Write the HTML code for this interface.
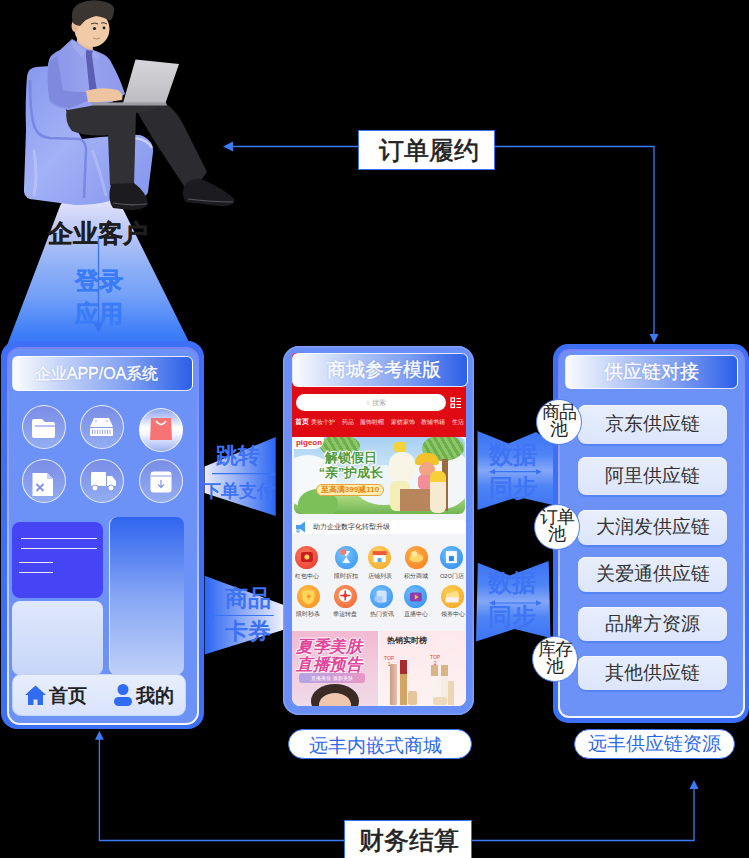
<!DOCTYPE html>
<html><head><meta charset="utf-8">
<style>
*{margin:0;padding:0;box-sizing:border-box}
html,body{width:749px;height:858px;background:#000;overflow:hidden;font-family:"Liberation Sans",sans-serif}
.a{position:absolute}
.lbl{position:absolute;border:1px solid rgba(255,255,255,.85);border-radius:6px;background:linear-gradient(90deg,#fbfcff 0%,#b4c7f6 35%,#7f9ff2 65%,#2c5fe8 100%);color:#fff;text-align:center;-webkit-text-stroke:.35px #fff;text-shadow:0 0 1.5px rgba(30,60,170,.45)}
.card{position:absolute;border-radius:14px;background:#3d70f6}
.inner{position:absolute;border-radius:11px;border:2px solid transparent;background:linear-gradient(#6c92f7,#6c92f7) padding-box,linear-gradient(180deg,#7b80f4 0%,#a9b6fa 50%,#f4f7ff 100%) border-box}
.row{position:absolute;left:578px;width:149px;border-radius:8px;background:linear-gradient(180deg,#e8eefd,#dce5fb);box-shadow:0 1.5px 1px #5584f2,inset 0 1px 0 #f4f7ff;color:#333;font-size:18.6px;text-align:center}
.pool{position:absolute;width:46px;height:46px;border-radius:50%;background:#fff;border:1.5px solid #4d80f3;color:#222;font-size:18px;line-height:17px;text-align:center;padding-top:4px;letter-spacing:-.8px;white-space:nowrap}
.pill{position:absolute;height:30px;border-radius:15px;background:#fff;border:1.5px solid #3a70f2;color:#2d68ea;font-size:18.5px;line-height:27px;text-align:center}
.box{position:absolute;background:#fff;border:1.5px solid #3a70f2;color:#222;font-size:24.5px;-webkit-text-stroke:.6px #222;text-align:center}
.ic{position:absolute;width:23px;height:23px;border-radius:50%}
.circ{position:absolute;width:44px;height:44px;border-radius:50%;background:linear-gradient(180deg,#7a8de6,#93adf2);border:1px solid rgba(255,255,255,.8)}
</style></head><body>

<!-- connector lines -->
<svg class="a" style="left:0;top:0" width="749" height="858">
  <g stroke="#3b7bf8" stroke-width="1.3" fill="none">
    <path d="M230 146.5 H358"/>
    <path d="M495 146.5 H654 V336"/>
    <path d="M99.4 739 V840.5 H344"/>
    <path d="M472 840.5 H694 V788"/>
  </g>
  <g fill="#3b7bf8">
    <path d="M223 146.5 L233 141.5 L233 151.5Z"/>
    <path d="M654 343 L649.5 334 L658.5 334Z"/>
    <path d="M99.4 731 L94.9 739.7 L103.9 739.7Z"/>
    <path d="M694 780 L689.5 789 L698.5 789Z"/>
  </g>
</svg>

<div class="box" style="left:358px;top:130px;width:137px;height:40px;line-height:39px;padding-left:5px">订单履约</div>
<div class="box" style="left:344px;top:820px;width:128px;height:40px;line-height:39px;padding-left:2px">财务结算</div>


<!-- beam -->
<svg class="a" style="left:0;top:190px" width="210" height="160">
  <defs>
    <linearGradient id="bm" x1="0" y1="0" x2="0" y2="1">
      <stop offset="0" stop-color="#e2e3fa"/>
      <stop offset="0.17" stop-color="#c4cdf6"/>
      <stop offset="0.45" stop-color="#8fb0f7"/>
      <stop offset="0.65" stop-color="#73a0f7"/>
      <stop offset="0.9" stop-color="#3f7ef8"/>
      <stop offset="1" stop-color="#3674f6"/>
    </linearGradient>
  </defs>
  <path d="M60 16 Q62 10 70 10 L112 10 Q118 10 120.5 14 L192 158 L6 158 Z" fill="url(#bm)"/>
</svg>

<!-- man -->
<svg class="a" style="left:0;top:0" width="250" height="215">
  <defs>
    <linearGradient id="ch" x1="0" y1="0" x2="1" y2="1">
      <stop offset="0" stop-color="#8798ef"/><stop offset=".45" stop-color="#a3b1f5"/><stop offset="1" stop-color="#8395ee"/>
    </linearGradient>
    <linearGradient id="lp" x1="0" y1="0" x2="0" y2="1">
      <stop offset="0" stop-color="#d6d6da"/><stop offset="1" stop-color="#bcbcc2"/>
    </linearGradient>
    <linearGradient id="sh" x1="0" y1="0" x2="1" y2="0">
      <stop offset="0" stop-color="#8894e8"/><stop offset=".5" stop-color="#97a3ee"/><stop offset="1" stop-color="#8e9aeb"/>
    </linearGradient>
  </defs>
  <!-- chair -->
  <path d="M27 76 Q28 68 36 67 L50 66 L66 110 L82 139 Q130 134 140 135 Q154 140 153 152 L148 192 Q146 199 130 199 L110 201 Q95 205 75 205 L30 199 Q23 197 24 188 L26 130 Q25 100 27 76Z" fill="url(#ch)"/>
  <path d="M30 80 Q30 120 36 130 Q40 137 50 138 L80 139 Q86 142 86 150 L84 198" stroke="#6d7ddd" stroke-width="2.5" fill="none" opacity=".75"/>
  <path d="M34 150 Q38 175 34 196" stroke="#c3ccf9" stroke-width="3" fill="none" opacity=".6"/>
  <path d="M122 138 Q146 136 152 148" stroke="#d2d9fb" stroke-width="2.5" fill="none" opacity=".8"/>
  <path d="M92 150 Q100 170 106 196" stroke="#c0caf8" stroke-width="3" fill="none" opacity=".5"/>
  <!-- far leg -->
  <path d="M136 110 L166 104 Q176 110 184 126 L207 172 Q200 184 186 189 L155 142Z" fill="#2b2b30"/>
  <!-- thigh + near leg -->
  <path d="M67 108 Q64 122 72 131 Q88 137 108 135 L110 185 L134 185 L136 113 L168 106 Q150 101 120 102 L92 103Z" fill="#303035"/>
  <!-- shoes -->
  <path d="M111 184 L134 183 Q146 192 148 203 Q146 210 130 210 L113 208 Q107 200 111 184Z" fill="#1c1c20"/>
  <path d="M184 186 Q192 176 204 180 Q226 190 235 200 Q233 207 220 206 L186 202 Q181 196 184 186Z" fill="#1c1c20"/>
  <path d="M113 203 Q128 206 147 204" stroke="#55555c" stroke-width="1.2" fill="none"/>
  <path d="M188 199 Q212 202 233 202" stroke="#55555c" stroke-width="1.2" fill="none"/>
  <!-- shirt -->
  <path d="M72 39 Q82 45 93 50 Q106 54 110 60 Q120 78 125 94 L112 102 L68 110 Q50 106 49 100 Q47 80 48 64 Q49 54 60 50 Z" fill="url(#sh)"/>
  <path d="M49 62 Q46 84 50 100 Q58 108 70 108 L90 100 L88 92 Q70 92 63 90 Q60 72 57 56Z" fill="#7f8adf"/>
  <!-- tie -->
  <path d="M86 50 L94 51 L92 56 L97 92 L90 96 L86 56Z" fill="#5b5fb2"/>
  <path d="M72 40 L86 51 L82 58 L72 46Z M93 50 L100 56 L96 60 L92 54Z" fill="#a0a9f0"/>
  <!-- head -->
  <path d="M77 36 L92 38 L93 50 Q85 50 77 42Z" fill="#e9bd98"/>
  <ellipse cx="92" cy="29" rx="17.5" ry="18" fill="#f1caa8"/>
  <ellipse cx="75" cy="26" rx="3.5" ry="6" fill="#e8b894"/>
  <path d="M73 23 Q69 8 80 3 Q92 -2 106 2 Q115 5 114 10 Q114 17 110 21 Q104 17 96 16 Q86 18 80 26 L76 25Z" fill="#3a3531"/>
  <circle cx="94.5" cy="28.5" r="1.6" fill="#222"/><circle cx="104" cy="28" r="1.4" fill="#222"/>
  <path d="M91 24 Q95 22 98 24 M101 23 Q104 22 107 24" stroke="#3b3632" stroke-width="1" fill="none"/>
  <path d="M93 38 Q97 40 100 38" stroke="#b07860" stroke-width=".8" fill="none"/>
  <!-- laptop -->
  <path d="M135.5 59.5 L179 64 L165.5 103 L123 103Z" fill="url(#lp)"/>
  <path d="M90 102.5 L166 102.5 L167 105.5 L94 105.5Z" fill="#9a9aa2"/>
  <!-- hands -->
  <path d="M86 91 Q100 86 118 90 Q124 94 122 100 Q110 102 88 102Z" fill="#efc4a0"/>
</svg>

<div class="a" style="left:48px;top:217px;font-size:24.5px;font-weight:bold;color:#1e1e1e;-webkit-text-stroke:.4px #1e1e1e">企业客户</div>
<div class="a" style="left:73px;top:263.5px;font-size:24px;font-weight:bold;color:#3a7cf8;-webkit-text-stroke:.5px #3a7cf8;line-height:33px;width:52px;text-align:center">登录<br>应用</div>
<svg class="a" style="left:0;top:0" width="210" height="345">
  <path d="M98.5 236 V326" stroke="#3a72f4" stroke-width="1.3"/>
  <path d="M98.5 333 L94 323 L103 323Z" fill="#3a72f4"/>
</svg>

<!-- left card -->
<div class="card" style="left:1px;top:341px;width:203px;height:388px;border-radius:16px"></div>
<div class="inner" style="left:7px;top:346.5px;width:192px;height:378px;border-radius:13px"></div>
<div class="lbl" style="left:12px;top:356px;width:181px;height:35px;font-size:16px;line-height:33px;padding-right:12px">企业APP/OA系统</div>
<div class="circ" style="left:22px;top:405px"></div>
<div class="circ" style="left:80px;top:405px"></div>
<div class="circ" style="left:139px;top:408px;background:linear-gradient(180deg,#8fa4f0 0%,#fff 45%,#f4f6ff 60%,#9db2f2 100%)"></div>
<div class="circ" style="left:22px;top:459px"></div>
<div class="circ" style="left:80px;top:459px"></div>
<div class="circ" style="left:139px;top:459px"></div>

<svg class="a" style="left:0;top:400px" width="200" height="110">
  <!-- folder -->
  <path d="M32 21 Q32 19 34 19 L42 19 L45 22 L53 22 Q55 22 55 24 L55 36 Q55 38 53 38 L34 38 Q32 38 32 36Z" fill="#fff"/>
  <path d="M35 26 L55.5 26" stroke="#8a9ae8" stroke-width="1.2"/>
  <!-- hdd -->
  <path d="M94 18 L109 18 L113 27 L90 27Z" fill="#fff"/>
  <rect x="90" y="28" width="23" height="8" rx="1" fill="#fff"/>
  <g stroke="#8d9be6" stroke-width=".9"><path d="M92.5 30 V34 M95 30 V34 M97.5 30 V34 M100 30 V34 M102.5 30 V34 M105 30 V34 M107.5 30 V34 M110 30 V34"/></g>
  <circle cx="96" cy="21" r=".8" fill="#8d9be6"/><circle cx="107" cy="21" r=".8" fill="#8d9be6"/>
  <!-- bag -->
  <path d="M151 18 L171 18 L172 40 L150 40Z" fill="#f87474"/>
  <path d="M156 21 Q161 28 166 21" stroke="#fff" stroke-width="1.3" fill="none"/>
  <!-- file x -->
  <path d="M32.5 73 L47 73 L53 79 L53 96 L32.5 96Z" fill="#fff"/>
  <path d="M47 73 L47 79 L53 79" fill="#c9d1f5"/>
  <path d="M36.5 84 L43.5 91 M43.5 84 L36.5 91" stroke="#7f90e2" stroke-width="1.8"/>
  <!-- truck -->
  <rect x="91" y="72" width="15" height="14" rx="1" fill="#fff"/>
  <path d="M107 76 L112 76 L116 81 L116 86 L107 86Z" fill="#fff"/>
  <circle cx="95" cy="88" r="3" fill="#fff" stroke="#8d9be6" stroke-width="1"/>
  <circle cx="111" cy="88" r="3" fill="#fff" stroke="#8d9be6" stroke-width="1"/>
  <!-- box download -->
  <rect x="150.5" y="71.5" width="21" height="21" rx="3" fill="#fff"/>
  <path d="M150.5 76 H171.5" stroke="#8d9be6" stroke-width="1"/>
  <path d="M161 80 V87 M158 84.5 L161 87.5 L164 84.5" stroke="#8d9be6" stroke-width="1.3" fill="none"/>
</svg>
<div class="a" style="left:12px;top:522px;width:91px;height:76px;border-radius:8px;background:#4545f5"></div>
<svg class="a" style="left:12px;top:522px" width="91" height="76">
  <g stroke="#fff" stroke-width="1" opacity=".9"><path d="M9 16.5 H85 M9 26.5 H85 M7 40.5 H41 M7 50.5 H41"/></g>
</svg>
<div class="a" style="left:12px;top:601px;width:91px;height:74px;border-radius:8px;background:linear-gradient(180deg,#e0e8fc,#c6d5f8)"></div>
<div class="a" style="left:109px;top:517px;width:75px;height:158px;border-radius:8px;background:linear-gradient(180deg,#2f64ee 0%,#86a6f4 50%,#bfd0f8 100%);border-left:1px solid #dfe8ff"></div>
<div class="a" style="left:12px;top:674px;width:174px;height:42px;border-radius:9px;background:linear-gradient(180deg,#e8eefd,#d9e3fb);border:1px solid #c3d3fa"></div>
<svg class="a" style="left:24px;top:684px" width="24" height="24">
  <path d="M1 11 L11.5 1.5 L22 11 L19 11 L19 21 L13.5 21 L13.5 15.5 L9.5 15.5 L9.5 21 L4 21 L4 11Z" fill="#2f6cf0"/>
</svg>
<div class="a" style="left:49px;top:684px;font-size:18.5px;font-weight:bold;color:#222;line-height:24px">首页</div>
<svg class="a" style="left:113px;top:683px" width="20" height="24">
  <circle cx="10" cy="6.5" r="5.5" fill="#2f6cf0"/>
  <rect x="1" y="14" width="18" height="9" rx="4.5" fill="#2f6cf0"/>
</svg>
<div class="a" style="left:136px;top:684px;font-size:18.5px;font-weight:bold;color:#222;line-height:24px">我的</div>

<!-- middle phone -->
<div class="a" style="left:283px;top:345.5px;width:191px;height:369.5px;border-radius:16px;background:#6a8ef7;box-shadow:inset 0 0 0 1.5px #7f9ff9"></div>
<div class="a" style="left:292px;top:353px;width:174px;height:353px;border-radius:4px 4px 8px 8px;background:#f3f4f7;overflow:hidden">

  <div class="a" style="left:0;top:0;width:174px;height:84px;background:#e00a12"></div>
  <div class="a" style="left:4px;top:41px;width:150px;height:17px;border-radius:9px;background:#fff"></div>
  <div class="a" style="left:74px;top:45px;font-size:7px;color:#aaa;line-height:9px">&#9675; 搜索</div>
  <svg class="a" style="left:158px;top:44px" width="12" height="12"><g fill="none" stroke="#fff" stroke-width="1.2"><rect x="1" y="1" width="3.5" height="3.5"/><rect x="1" y="7" width="3.5" height="3.5"/><path d="M6.5 1.5 H11 M6.5 4.5 H11 M6.5 7.5 H11 M6.5 10.5 H11"/></g></svg>
  <div class="a" style="left:2.6px;top:64.0px;font-size:7px;font-weight:bold;color:#fff;line-height:10px;white-space:nowrap">首页</div>
  <div class="a" style="left:19.4px;top:64.5px;font-size:5.83px;color:#ffe0e0;line-height:9px;white-space:nowrap">美妆个护</div>
  <div class="a" style="left:50.3px;top:64.5px;font-size:5.85px;color:#ffe0e0;line-height:9px;white-space:nowrap">药品</div>
  <div class="a" style="left:67.7px;top:64.5px;font-size:5.83px;color:#ffe0e0;line-height:9px;white-space:nowrap">服饰鞋帽</div>
  <div class="a" style="left:98.5px;top:64.5px;font-size:5.83px;color:#ffe0e0;line-height:9px;white-space:nowrap">家纺家饰</div>
  <div class="a" style="left:129.3px;top:64.5px;font-size:5.83px;color:#ffe0e0;line-height:9px;white-space:nowrap">教辅书籍</div>
  <div class="a" style="left:159.6px;top:64.5px;font-size:5.90px;color:#ffe0e0;line-height:9px;white-space:nowrap">生活</div>
  <!-- banner -->
  <div class="a" style="left:2px;top:84px;width:171px;height:77px;border-radius:6px;overflow:hidden;background:linear-gradient(180deg,#a6d0f4 0%,#cfe6f8 45%,#e9f3f6 62%,#a9d67e 78%,#6fb552 100%)">
    <div class="a" style="left:-14px;top:18px;width:56px;height:52px;border-radius:50%;background:#f6f9fb"></div>
    <div class="a" style="left:60px;top:28px;width:60px;height:40px;border-radius:50%;background:#eef5f8"></div>
    <div class="a" style="left:118px;top:10px;width:60px;height:62px;border-radius:50%;background:#f2f6f8"></div>
    <div class="a" style="left:26px;top:-2px;width:40px;height:22px;border-radius:50%;background:repeating-linear-gradient(60deg,#8cc868 0 3px,#6fae4e 3px 6px)"></div>
    <div class="a" style="left:128px;top:-2px;width:42px;height:26px;border-radius:50%;background:repeating-linear-gradient(60deg,#8cc868 0 3px,#6fae4e 3px 6px)"></div>
    <div class="a" style="left:148px;top:22px;width:6px;height:52px;background:#9a6a40"></div>
    <div class="a" style="left:4px;top:52px;width:40px;height:30px;border-radius:50%;background:#7cc05a"></div>
    <div class="a" style="left:0;top:0;width:30px;height:12px;border-radius:0 0 9px 0;background:#fff;color:#e8262b;font-size:8px;font-weight:bold;line-height:12px;text-align:center">pigeon</div>
    <div class="a" style="left:20px;top:14px;width:74px;font-size:12.5px;font-weight:bold;color:#4c9a3c;line-height:15px;text-align:center;text-shadow:1px 0 #fff,-1px 0 #fff,0 1px #fff,0 -1px #fff,1px 1px #fff,-1px -1px #fff">解锁假日<br>“亲”护成长</div>
    <div class="a" style="left:22px;top:47px;width:68px;height:12px;border-radius:6px;background:#fdeeb0;border:1px solid #e8a23a;color:#e7860f;font-size:8px;font-weight:bold;line-height:10px;text-align:center">至高满399减110</div>
    <div class="a" style="left:95px;top:15px;width:26px;height:31px;border-radius:12px;background:#f8f5e6"></div>
    <div class="a" style="left:100px;top:5px;width:12px;height:10px;border-radius:3px;background:#f2d33a"></div>
    <div class="a" style="left:96px;top:44px;width:20px;height:30px;border-radius:6px;background:#f4eeb8"></div>
    <div class="a" style="left:106px;top:52px;width:30px;height:22px;background:#b8865a"></div>
    <div class="a" style="left:121px;top:16px;width:24px;height:12px;border-radius:12px 12px 3px 3px;background:#f4c22b"></div>
    <div class="a" style="left:125px;top:25px;width:16px;height:15px;border-radius:50%;background:#f2a484"></div>
    <div class="a" style="left:124px;top:38px;width:14px;height:14px;border-radius:4px;background:#f08f9a"></div>
    <div class="a" style="left:136px;top:34px;width:16px;height:42px;border-radius:6px;background:linear-gradient(180deg,#f7cf3a 0 25%,#f6ead0 25%)"></div>
  </div>
  <!-- notice -->
  <div class="a" style="left:0;top:167px;width:174px;height:14px;border-radius:4px;background:#fff"></div>
  <svg class="a" style="left:2px;top:167px" width="14" height="14"><path d="M2 5 L6 5 L11 1.5 L11 12.5 L6 9 L2 9Z" fill="#4c9ff0"/><circle cx="4" cy="11" r="2" fill="#8cc4f6"/></svg>
  <div class="a" style="left:21px;top:168px;font-size:6.8px;color:#333;line-height:12px;white-space:nowrap">助力企业数字化转型升级</div>
  <!-- icon grid -->
  <div class="ic" style="left:3.4px;top:192.6px;background:radial-gradient(circle at 40% 35%,#ff7a5c,#e8332a)"></div>
  <div class="a" style="left:-5.1px;top:219.3px;width:40px;text-align:center;font-size:5.7px;color:#444;line-height:8px;white-space:nowrap">红包中心</div>
  <div class="ic" style="left:42.7px;top:192.6px;background:radial-gradient(circle at 40% 35%,#7cc6ff,#2d8ff0)"></div>
  <div class="a" style="left:34.2px;top:219.3px;width:40px;text-align:center;font-size:5.7px;color:#444;line-height:8px;white-space:nowrap">限时折扣</div>
  <div class="ic" style="left:76.1px;top:192.6px;background:radial-gradient(circle at 40% 35%,#ffd36a,#f4a51d)"></div>
  <div class="a" style="left:67.6px;top:219.3px;width:40px;text-align:center;font-size:5.7px;color:#444;line-height:8px;white-space:nowrap">店铺列表</div>
  <div class="ic" style="left:112.8px;top:192.6px;background:radial-gradient(circle at 40% 35%,#ffb14a,#f7791a)"></div>
  <div class="a" style="left:104.3px;top:219.3px;width:40px;text-align:center;font-size:5.7px;color:#444;line-height:8px;white-space:nowrap">积分商城</div>
  <div class="ic" style="left:148.4px;top:192.6px;background:radial-gradient(circle at 40% 35%,#6cc0ff,#2a86ee)"></div>
  <div class="a" style="left:139.9px;top:219.3px;width:40px;text-align:center;font-size:5.7px;color:#444;line-height:8px;white-space:nowrap">O2O门店</div>
  <div class="ic" style="left:4.9px;top:231.9px;background:radial-gradient(circle at 40% 35%,#ffc24a,#f58a1c)"></div>
  <div class="a" style="left:-3.6px;top:257.1px;width:40px;text-align:center;font-size:5.7px;color:#444;line-height:8px;white-space:nowrap">限时秒杀</div>
  <div class="ic" style="left:41.7px;top:231.9px;background:radial-gradient(circle at 40% 35%,#ff9a6a,#f0642e)"></div>
  <div class="a" style="left:33.2px;top:257.1px;width:40px;text-align:center;font-size:5.7px;color:#444;line-height:8px;white-space:nowrap">幸运转盘</div>
  <div class="ic" style="left:78.1px;top:231.9px;background:radial-gradient(circle at 40% 35%,#74c0ff,#3590f0)"></div>
  <div class="a" style="left:69.6px;top:257.1px;width:40px;text-align:center;font-size:5.7px;color:#444;line-height:8px;white-space:nowrap">热门资讯</div>
  <div class="ic" style="left:112.3px;top:231.9px;background:radial-gradient(circle at 40% 35%,#70beff,#3189ee)"></div>
  <div class="a" style="left:103.8px;top:257.1px;width:40px;text-align:center;font-size:5.7px;color:#444;line-height:8px;white-space:nowrap">直播中心</div>
  <div class="ic" style="left:149.1px;top:231.9px;background:radial-gradient(circle at 40% 35%,#ffcf5a,#f5a21c)"></div>
  <div class="a" style="left:140.6px;top:257.1px;width:40px;text-align:center;font-size:5.7px;color:#444;line-height:8px;white-space:nowrap">领券中心</div>
  <svg class="a" style="left:0;top:0" width="174" height="280">
    <g transform="translate(14.9,204.1)"><rect x="-6" y="-5" width="12" height="10" rx="2" fill="#c81e1e"/><circle cx="0" cy="0" r="2.5" fill="#ffd45a"/></g>
    <g transform="translate(54.2,204.1)"><path d="M-4 -6 H4 L0 0 L4 6 H-4 L0 0Z" fill="#fff" opacity=".9"/><circle cx="-3" cy="-5" r="3" fill="#ff7a6a"/></g>
    <g transform="translate(87.6,204.1)"><rect x="-6" y="-3" width="12" height="8" fill="#fff"/><rect x="-7" y="-6" width="14" height="4" fill="#f05a3a"/><rect x="-2" y="1" width="4" height="4" fill="#5aa9ee"/></g>
    <g transform="translate(124.3,204.1)"><ellipse cx="0" cy="1" rx="7" ry="4" fill="#ffd76a"/><circle cx="-2" cy="-3" r="3" fill="#ffe8a0"/></g>
    <g transform="translate(159.9,204.1)"><rect x="-6" y="-6" width="11" height="12" fill="#fff" opacity=".95"/><rect x="-3" y="-1" width="5" height="5" fill="#2a86ee"/></g>
    <g transform="translate(16.4,243.4)"><path d="M-6 -6 H6 V1 Q6 6 0 8 Q-6 6 -6 1Z" fill="#ffd45a"/><path d="M1 -4 L-2 1 H1 L-1 5 L3 -1 H0Z" fill="#f58a1c"/></g>
    <g transform="translate(53.2,243.4)"><circle cx="0" cy="-1" r="6.5" fill="#fff"/><circle cx="0" cy="-1" r="2" fill="#e8332a"/><path d="M-5 -1 H5 M0 -6 V4" stroke="#e8332a" stroke-width="1.5"/></g>
    <g transform="translate(89.6,243.4)"><rect x="-5" y="-6" width="10" height="12" rx="2" fill="#dde9ff" opacity=".9"/><rect x="-7" y="0" width="8" height="5" fill="#a9c8ff"/></g>
    <g transform="translate(123.8,243.4)"><rect x="-6" y="-4" width="12" height="9" rx="2" fill="#8a3fb0"/><path d="M-1 -2 L3 0.5 L-1 3Z" fill="#ffb14a"/></g>
    <g transform="translate(160.6,243.4)"><path d="M-7 -2 L5 -6 L7 2 L-5 6Z" fill="#ffe28a"/><rect x="-7" y="1" width="13" height="5" fill="#f7f1f4"/></g>
  </svg>
  <!-- bottom banners -->
  <div class="a" style="left:0;top:278px;width:86px;height:75px;background:linear-gradient(180deg,#f2b9d2,#f1cde0 55%,#efdbe8)">
    <div class="a" style="left:4px;top:7px;width:82px;font-size:16.5px;font-weight:bold;font-style:italic;color:#e0479c;line-height:17.5px;text-shadow:1px 0 #fff,-1px 0 #fff,0 1px #fff,0 -1px #fff;white-space:nowrap;letter-spacing:-.5px">夏季美肤<br>直播预告</div>
    <div class="a" style="left:7px;top:42px;width:66px;height:10px;border-radius:3px;background:linear-gradient(90deg,#b3a4e6,#e896c4);color:#fff;font-size:5px;line-height:10px;text-align:center">直播美妆 &nbsp;焕新美肤</div>
    <div class="a" style="left:19px;top:53px;width:48px;height:34px;border-radius:50%;background:#3b2a26"></div>
    <div class="a" style="left:27px;top:62px;width:32px;height:24px;border-radius:50%;background:#efc6ae"></div>
  </div>
  <div class="a" style="left:88px;top:278px;width:86px;height:75px;background:linear-gradient(180deg,#fde8ec,#fdf2f2)">
    <div class="a" style="left:7px;top:4.5px;font-size:7.5px;font-weight:bold;color:#333;line-height:10px;white-space:nowrap">热销实时榜</div>
    <div class="a" style="left:60px;top:6px;width:16px;height:12px;background:#fbeaee"></div>
    <div class="a" style="left:4px;top:24px;font-size:5px;color:#e8402e;line-height:6px;text-align:center">TOP<br>1</div>
    <div class="a" style="left:50px;top:23px;font-size:5px;color:#e8402e;line-height:6px;text-align:center">TOP<br>2</div>
    <div class="a" style="left:10px;top:33px;width:7px;height:41px;border-radius:1px;background:linear-gradient(90deg,#c99b86,#e6c2ad)"></div>
    <div class="a" style="left:20px;top:29px;width:7px;height:45px;background:linear-gradient(180deg,#a82a2e 0 32%,#d3a565 32%)"></div>
    <div class="a" style="left:28px;top:60px;width:9px;height:14px;border-radius:2px;background:#e6c59c"></div>
    <div class="a" style="left:51px;top:34px;width:7px;height:40px;background:linear-gradient(180deg,#d9b487 0 28%,#f7f4ef 28%)"></div>
    <div class="a" style="left:61px;top:34px;width:7px;height:38px;background:linear-gradient(180deg,#d9b487 0 28%,#f3ede6 28%)"></div>
    <div class="a" style="left:68px;top:50px;width:6px;height:24px;background:#edd6b5"></div>
    <div class="a" style="left:53px;top:66px;width:14px;height:8px;border-radius:2px;background:#efd9bd"></div>
  </div>
</div>
<div class="lbl" style="left:292px;top:353px;width:176px;height:34px;font-size:18.5px;line-height:32px;padding-left:8px">商城参考模版</div>

<!-- arrow shapes -->
<svg class="a" style="left:195px;top:425px" width="95" height="240">
  <defs>
    <linearGradient id="g1" x1="0" y1="0" x2="1" y2="0">
      <stop offset="0" stop-color="#e8ecfb"/><stop offset=".5" stop-color="#8faaf4"/><stop offset="1" stop-color="#2a66f4"/>
    </linearGradient>
    <linearGradient id="g2" x1="1" y1="0" x2="0" y2="0">
      <stop offset="0" stop-color="#eef0fc"/><stop offset=".5" stop-color="#90acf4"/><stop offset="1" stop-color="#2a66f4"/>
    </linearGradient>
  </defs>
  <path d="M9.6 41.5 L80.7 12 L80.7 91 L9.6 68Z" fill="url(#g1)"/>
  <path d="M9.6 150.8 L88 179.7 L88 205 L9.6 229.5Z" fill="url(#g2)"/>
  <g stroke="#3a72f4" stroke-width="1.2"><path d="M17 48.7 H78 M16 190.5 H78.7"/></g>
  <path d="M81 48.7 L75 45 L75 52.4Z M13 190.5 L19 186.8 L19 194.2Z" fill="#3a72f4"/>
</svg>
<div class="a" style="left:216px;top:441.5px;font-size:22px;font-weight:bold;color:#3d72f5;line-height:27px">跳转</div>
<div class="a" style="left:202.5px;top:480px;font-size:18px;font-weight:bold;color:#3d72f5;line-height:22px">下单支付</div>
<div class="a" style="left:225px;top:582px;font-size:22.5px;font-weight:bold;color:#3d72f5;line-height:33px;width:47px">商品<br>卡券</div>

<svg class="a" style="left:470px;top:420px" width="90" height="230">
  <defs>
    <linearGradient id="g3" x1="0" y1="0" x2="0" y2="1">
      <stop offset="0" stop-color="#3a73f4"/><stop offset=".3" stop-color="#4f84f6"/><stop offset=".5" stop-color="#84a7f8"/><stop offset=".7" stop-color="#4f84f6"/><stop offset="1" stop-color="#3a73f4"/>
    </linearGradient>
  </defs>
  <path d="M7.5 11 L38.5 23.5 L66 12 L83 24 L83 85 L48 77 L7.5 90Z" fill="url(#g3)"/>
  <path d="M7.8 142.8 L39.7 155.4 L78.7 141 L80.5 218 L44.5 209 L6 221.5Z" fill="url(#g3)"/>
  <g stroke="#3a72f4" stroke-width="1.2"><path d="M22 51.7 H69 M22 183 H69"/></g>
  <path d="M19 51.7 L25 49 L25 54.4Z M72 51.7 L66 49 L66 54.4Z M19 183 L25 180.3 L25 185.7Z M72 183 L66 180.3 L66 185.7Z" fill="#3a72f4"/>
</svg>
<div class="a" style="left:488.5px;top:437.5px;font-size:24px;font-weight:bold;color:#3f74f4;line-height:33.5px;width:49px">数据<br>同步</div>
<div class="a" style="left:488px;top:566px;font-size:24px;font-weight:bold;color:#3f74f4;line-height:33.5px;width:49px">数据<br>同步</div>

<!-- right card -->
<div class="card" style="left:553px;top:344px;width:196px;height:379px;border-radius:15px"></div>
<div class="inner" style="left:557.5px;top:349px;width:187px;height:369px"></div>
<div class="lbl" style="left:565px;top:355px;width:173px;height:34px;font-size:18.5px;line-height:32px">供应链对接</div>
<div class="row" style="top:405.2px;height:38.6px;line-height:38.6px">京东供应链</div>
<div class="row" style="top:457.4px;height:38px;line-height:38px">阿里供应链</div>
<div class="row" style="top:510.3px;height:34.5px;line-height:34.5px">大润发供应链</div>
<div class="row" style="top:557px;height:34.5px;line-height:34.5px">关爱通供应链</div>
<div class="row" style="top:606.6px;height:34.5px;line-height:34.5px">品牌方资源</div>
<div class="row" style="top:655.8px;height:34px;line-height:34px">其他供应链</div>
<div class="pool" style="left:536px;top:399px">商品<br>池</div>
<div class="pool" style="left:534px;top:504px">订单<br>池</div>
<div class="pool" style="left:532px;top:636px">库存<br>池</div>
<div class="pill" style="left:574px;top:729px;width:161px">远丰供应链资源</div>
<div class="pill" style="left:288px;top:729px;width:184px;padding-right:10px;padding-top:2px">远丰内嵌式商城</div>

</body></html>
